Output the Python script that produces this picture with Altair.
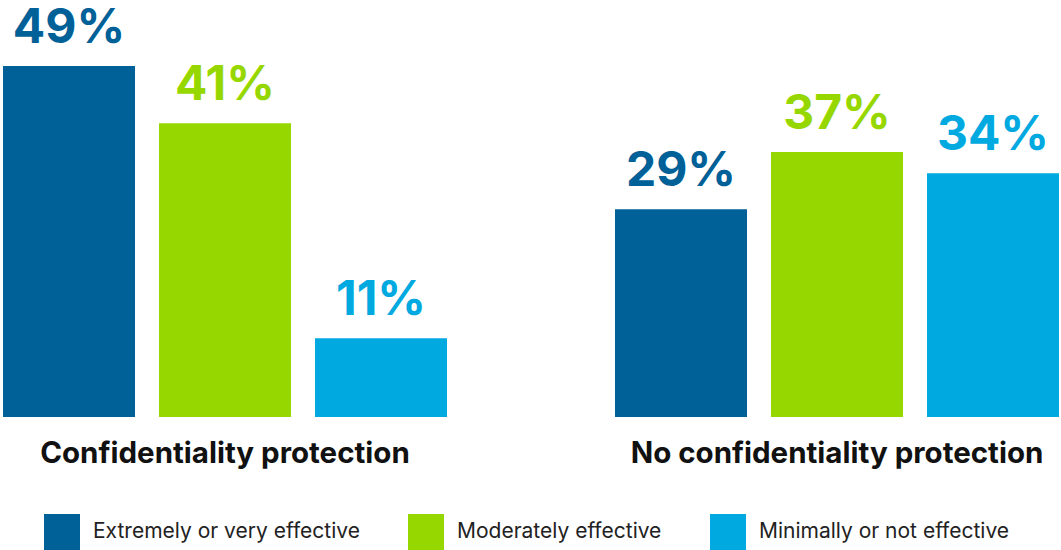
import altair as alt
import pandas as pd

groups = ["Confidentiality protection", "No confidentiality protection"]
categories = ["Extremely or very effective", "Moderately effective", "Minimally or not effective"]
values_conf = [49, 41, 11]
values_noconf = [29, 37, 34]
colors = ["#006098", "#97D700", "#00A9E0"]

rows = []
for g, vals in zip(groups, [values_conf, values_noconf]):
    for c, v in zip(categories, vals):
        rows.append({"group": g, "category": c, "value": v, "label": f"{v}%"})
df = pd.DataFrame(rows)

FONT = "Inter"

x = alt.X("group:N", sort=groups, title=None,
          scale=alt.Scale(paddingInner=0.2745, paddingOuter=0),
          axis=alt.Axis(labelAngle=0, labelFontSize=29.5, labelFont=FONT, labelFontWeight="bold",
                        labelColor="#111111", labelPadding=22, domain=False, ticks=False,
                        labelLimit=600))
xo = alt.XOffset("category:N", sort=categories,
                 scale=alt.Scale(paddingInner=0.1538, paddingOuter=0))
y = alt.Y("value:Q", scale=alt.Scale(domain=[0, 56.8], nice=False), axis=None)
color = alt.Color("category:N", sort=categories,
                  scale=alt.Scale(domain=categories, range=colors),
                  legend=alt.Legend(title=None, orient="none", direction="horizontal",
                                    legendX=41, legendY=504, symbolType="square",
                                    symbolSize=1296, symbolStrokeWidth=0, symbolOpacity=1,
                                    labelFontSize=21, labelFont=FONT, labelColor="#222222",
                                    columnPadding=48, labelOffset=13, labelLimit=400))

bars = alt.Chart(df).mark_bar().encode(x=x, xOffset=xo, y=y, color=color)
text = alt.Chart(df).mark_text(baseline="alphabetic", dy=-23, fontSize=48,
                               font=FONT, fontWeight="bold").encode(
    x=x, xOffset=xo, y=y, text="label:N",
    color=alt.Color("category:N", sort=categories,
                    scale=alt.Scale(domain=categories, range=colors), legend=None))

chart = (bars + text).properties(
    width=1056, height=407,
    background="white",
    autosize=alt.AutoSizeParams(type="none"),
    padding={"left": 3, "right": 2, "top": 10, "bottom": 133},
).configure_view(strokeWidth=0, stroke=None)

chart.save("out.html", embed_options={"renderer": "svg", "actions": False})
